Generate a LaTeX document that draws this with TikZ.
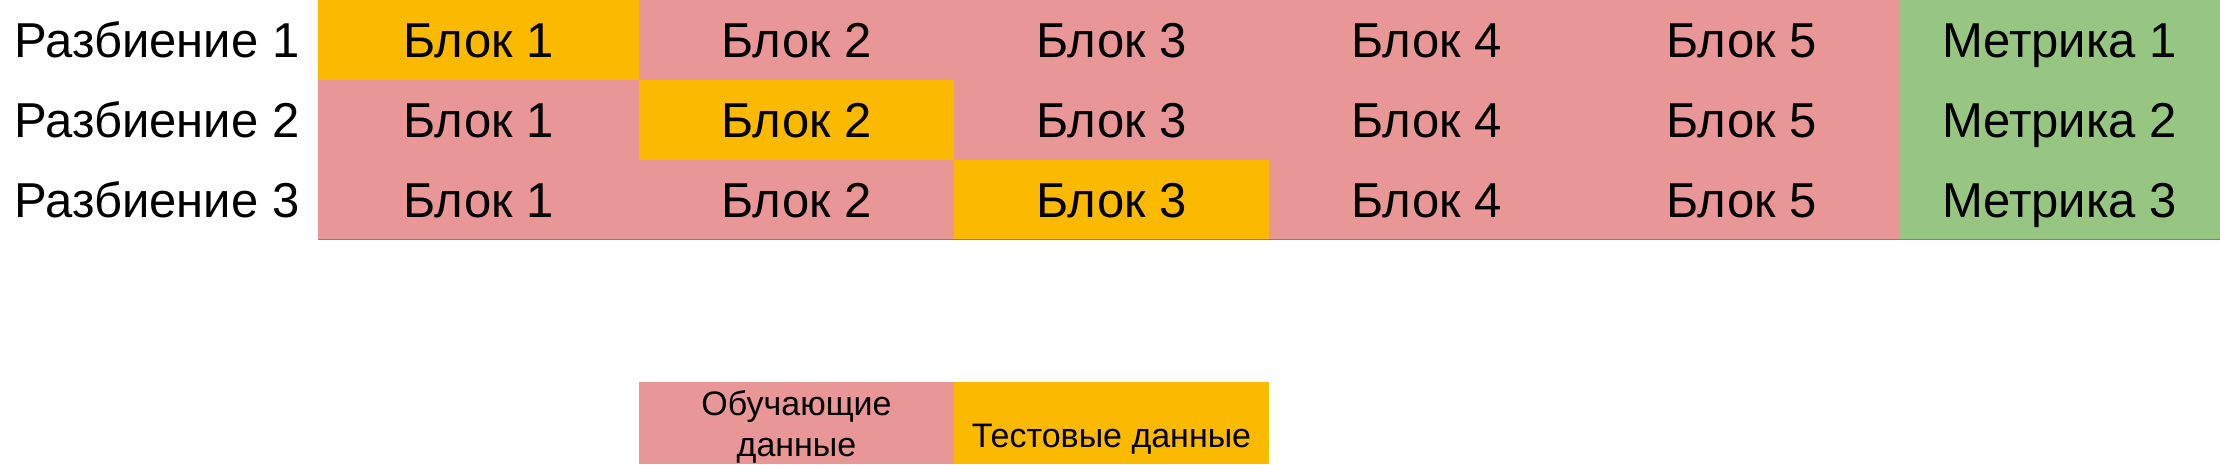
\documentclass[tikz,border=0pt]{standalone}
\usepackage{fontspec}
\setmainfont{Liberation Sans}
\definecolor{trainpink}{HTML}{E99696}
\definecolor{testyellow}{HTML}{FBBA00}
\definecolor{metricgreen}{HTML}{97C682}
\definecolor{rulegray}{HTML}{808080}
\begin{document}
\begin{tikzpicture}[x=1pt,y=-1pt,
  cell/.style={draw=none, inner sep=0pt, minimum height=80pt, text height=35pt, text depth=0pt, font=\fontsize{49}{59}\selectfont},
  train/.style={cell, fill=trainpink, minimum width=#1},
  test/.style={cell, fill=testyellow, minimum width=#1},
  metric/.style={cell, fill=metricgreen, minimum width=321pt},
  rowlabel/.style={inner sep=0pt, text height=35pt, text depth=0pt, font=\fontsize{49}{59}\selectfont},
  legcell/.style={draw=none, inner sep=0pt, minimum width=315pt, minimum height=82pt},
  legtext/.style={inner sep=0pt, anchor=base, align=center, font=\fontsize{34}{41}\selectfont}
]
\useasboundingbox (0,0) rectangle (2220,464);
% row 1
\node[rowlabel] (r1) at (157,39.5) {Разбиение 1};
\node[test=321pt]  (a1) at (478.5,39.5) {Блок 1};
\node[train=315pt] (a2) at (796.5,39.5) {Блок 2};
\node[train=315pt] (a3) at (1111.5,39.5) {Блок 3};
\node[train=315pt] (a4) at (1426.5,39.5) {Блок 4};
\node[train=315pt] (a5) at (1741.5,39.5) {Блок 5};
\node[metric]      (am) at (2059.5,39.5) {Метрика 1};
% row 2
\node[rowlabel] (r2) at (157,119.5) {Разбиение 2};
\node[train=321pt] (b1) at (478.5,119.5) {Блок 1};
\node[test=315pt]  (b2) at (796.5,119.5) {Блок 2};
\node[train=315pt] (b3) at (1111.5,119.5) {Блок 3};
\node[train=315pt] (b4) at (1426.5,119.5) {Блок 4};
\node[train=315pt] (b5) at (1741.5,119.5) {Блок 5};
\node[metric]      (bm) at (2059.5,119.5) {Метрика 2};
% row 3
\node[rowlabel] (r3) at (157,199.5) {Разбиение 3};
\node[train=321pt] (c1) at (478.5,199.5) {Блок 1};
\node[train=315pt] (c2) at (796.5,199.5) {Блок 2};
\node[test=315pt]  (c3) at (1111.5,199.5) {Блок 3};
\node[train=315pt] (c4) at (1426.5,199.5) {Блок 4};
\node[train=315pt] (c5) at (1741.5,199.5) {Блок 5};
\node[metric]      (cm) at (2059.5,199.5) {Метрика 3};
% bottom rule
\draw[rulegray, line width=1.5pt] (c1.south west) -- (cm.south east);
% legend
\node[legcell, fill=trainpink]  (ltrain) at (796.5,423) {};
\node[legcell, fill=testyellow] (ltest)  at (1111.5,423) {};
\node[legtext] (ltraintxt) at (796.5,456) {Обучающие\\данные};
\node[legtext] (ltesttxt)  at (1111.5,447) {Тестовые данные};
\end{tikzpicture}
\end{document}
